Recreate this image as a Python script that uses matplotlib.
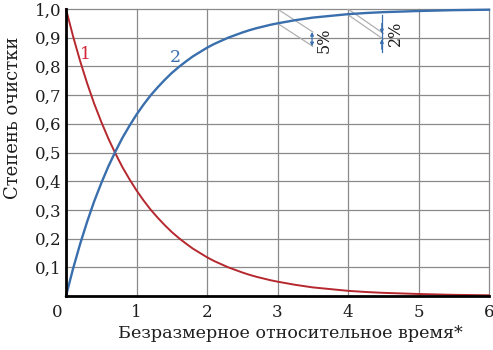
import matplotlib
matplotlib.use("Agg")
import matplotlib.pyplot as plt

# Values
t_red = [0, 0.1, 0.2, 0.3, 0.4, 0.5, 0.6, 0.7, 0.8, 0.9, 1.0, 1.1, 1.2, 1.3, 1.4, 1.5, 1.6, 1.7, 1.8, 1.9,
         2.0, 2.1, 2.2, 2.3, 2.4, 2.5, 2.6, 2.7, 2.8, 2.9, 3.0, 3.25, 3.5, 3.75, 4.0, 4.25, 4.5, 4.75, 5.0, 5.5, 6.0]
y_red = [1.000, 0.905, 0.819, 0.741, 0.670, 0.607, 0.549, 0.497, 0.449, 0.407, 0.368, 0.333, 0.301, 0.273, 0.247,
         0.223, 0.202, 0.183, 0.165, 0.150, 0.135, 0.122, 0.111, 0.100, 0.091, 0.082, 0.074, 0.067, 0.061, 0.055,
         0.050, 0.039, 0.030, 0.024, 0.018, 0.014, 0.011, 0.009, 0.007, 0.004, 0.0025]
t_blue = [0, 0.1, 0.2, 0.3, 0.4, 0.5, 0.6, 0.7, 0.8, 0.9, 1.0, 1.1, 1.2, 1.3, 1.4, 1.5, 1.6, 1.7, 1.8, 1.9,
          2.0, 2.1, 2.2, 2.3, 2.4, 2.5, 2.6, 2.7, 2.8, 2.9, 3.0, 3.25, 3.5, 3.75, 4.0, 4.25, 4.5, 4.75, 5.0, 5.5, 6.0]
y_blue = [0.000, 0.095, 0.181, 0.259, 0.330, 0.393, 0.451, 0.503, 0.551, 0.593, 0.632, 0.667, 0.699, 0.727, 0.753,
          0.777, 0.798, 0.817, 0.835, 0.850, 0.865, 0.878, 0.889, 0.900, 0.909, 0.918, 0.926, 0.933, 0.939, 0.945,
          0.950, 0.961, 0.970, 0.976, 0.982, 0.986, 0.989, 0.991, 0.993, 0.996, 0.9975]

x_ticks = [0, 1, 2, 3, 4, 5, 6]
x_tick_labels = ["", "1", "2", "3", "4", "5", "6"]
y_ticks = [0.1, 0.2, 0.3, 0.4, 0.5, 0.6, 0.7, 0.8, 0.9, 1.0]
y_tick_labels = ["0,1", "0,2", "0,3", "0,4", "0,5", "0,6", "0,7", "0,8", "0,9", "1,0"]

# Annotation geometry (percent bands)
band5_x = [3.0, 3.5]
band5_upper = [1.0, 0.92]
band5_lower = [0.95, 0.87]
band2_x = [4.0, 4.5]
band2_upper = [1.0, 0.915]
band2_lower = [0.98, 0.895]

plt.rcParams['font.family'] = ['DejaVu Serif']

RED = "#b5282e"
BLUE = "#3a6fad"
GRID = "#8a8a8a"
TXT = "#1e1e1e"

fig = plt.figure(figsize=(4.93, 3.5), dpi=100)
ax = fig.add_axes([66/493, 1 - 296/350, (489-66)/493, (296-9)/350])
ax.set_xlim(0, 6)
ax.set_ylim(0, 1.0)

for x in x_ticks[1:]:
    ax.axvline(x, color=GRID, lw=0.9, zorder=1, clip_on=False)
for y in y_ticks:
    ax.axhline(y, color=GRID, lw=0.9, zorder=1, clip_on=False)

# percent bands
for xs, up, lo in [(band5_x, band5_upper, band5_lower), (band2_x, band2_upper, band2_lower)]:
    ax.plot(xs, up, color="#b0b0b0", lw=0.9, zorder=2)
    ax.plot(xs, lo, color="#b0b0b0", lw=0.9, zorder=2)

ax.plot(t_red, y_red, color=RED, lw=1.4, zorder=3, clip_on=False)
ax.plot(t_blue, y_blue, color=BLUE, lw=1.7, zorder=3, clip_on=False)

# 5% arrow (double-headed between band lines)
ax.annotate("", xy=(3.49, band5_lower[1]), xytext=(3.49, band5_upper[1]),
            arrowprops=dict(arrowstyle="<|-|>", color=BLUE, lw=0.9, mutation_scale=5, shrinkA=0, shrinkB=0), zorder=4)
# 2% arrows (pointing inward)
ax.plot([4.48, 4.48], [0.98, 0.85], color=BLUE, lw=0.9, zorder=4)
ax.annotate("", xy=(4.48, band2_upper[1]), xytext=(4.48, 0.95),
            arrowprops=dict(arrowstyle="-|>", color=BLUE, lw=0.9, mutation_scale=5, shrinkA=0, shrinkB=0), zorder=4)
ax.annotate("", xy=(4.48, band2_lower[1]), xytext=(4.48, 0.86),
            arrowprops=dict(arrowstyle="-|>", color=BLUE, lw=0.9, mutation_scale=5, shrinkA=0, shrinkB=0), zorder=4)

ax.text(3.66, 0.89, "5%", rotation=90, ha="center", va="center", fontsize=11.5, color=TXT)
ax.text(4.67, 0.915, "2%", rotation=90, ha="center", va="center", fontsize=11.5, color=TXT)

ax.text(0.28, 0.84, "1", color="#d0283a", fontsize=12.5, ha="center", va="center")
ax.text(1.55, 0.83, "2", color=BLUE, fontsize=12.5, ha="center", va="center")

for s in ["top", "right"]:
    ax.spines[s].set_visible(False)
for s in ["left", "bottom"]:
    ax.spines[s].set_color("black")
    ax.spines[s].set_linewidth(2.0)
    ax.spines[s].set_zorder(5)

ax.set_xticks(x_ticks)
ax.set_xticklabels(x_tick_labels)
ax.set_yticks(y_ticks)
ax.set_yticklabels(y_tick_labels)
ax.tick_params(axis="both", length=0, labelsize=12, colors=TXT)
ax.tick_params(axis="x", pad=6)
ax.tick_params(axis="y", pad=3)
ax.text(-0.13, -0.058, "0", fontsize=12, color=TXT, ha="center", va="center", transform=ax.transData, clip_on=False)

fig.text(290/493, 1 - 334/350, "Безразмерное относительное время*", fontsize=12.6, color=TXT,
         ha="center", va="center")
fig.text(13/493, 1 - 118/350, "Степень очистки", fontsize=13, color=TXT, rotation=90,
         ha="center", va="center")

fig.savefig("out.png", dpi=100)
